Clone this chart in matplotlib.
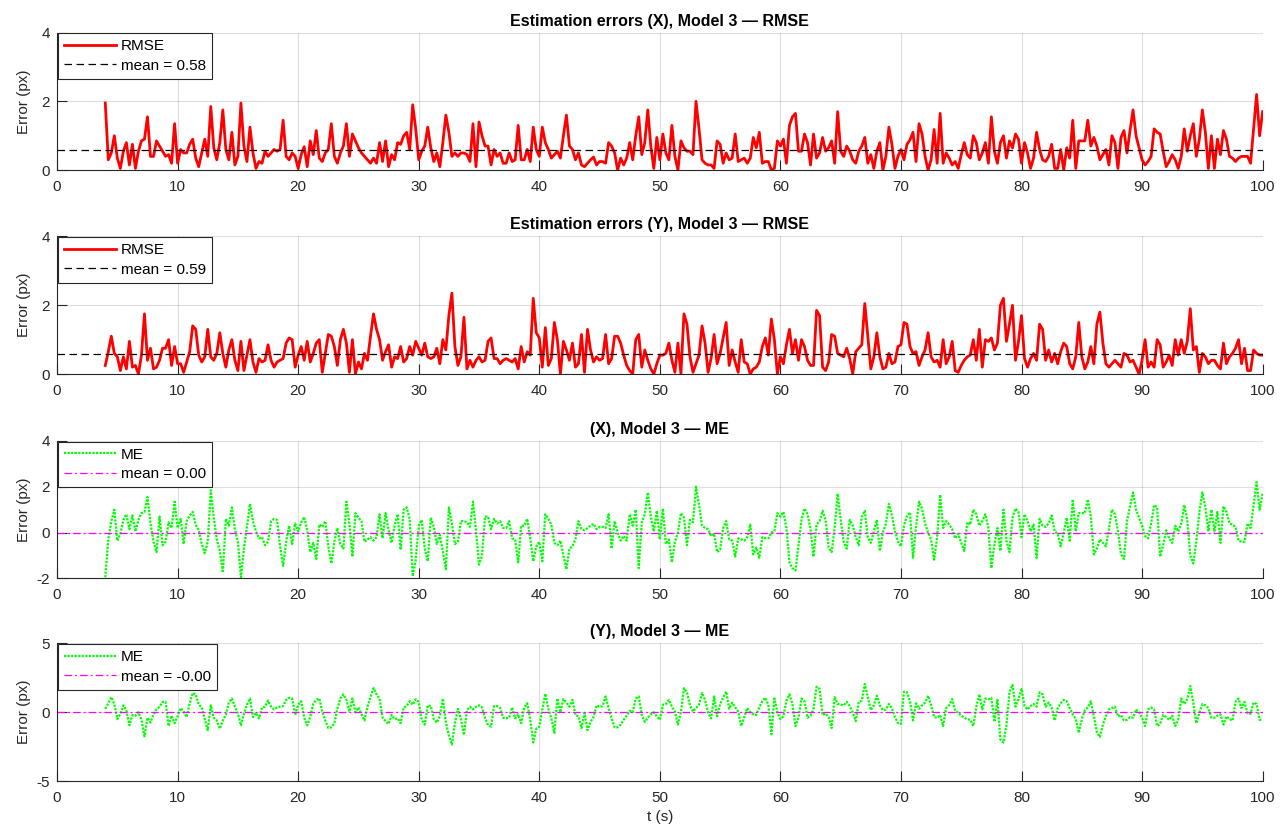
import numpy as np
import matplotlib
matplotlib.use("Agg")
import matplotlib.pyplot as plt

plt.rcParams["font.family"] = ["Liberation Sans", "DejaVu Sans"]
plt.rcParams["axes.unicode_minus"] = False

# signed per-frame estimation error (px), sampled every 0.25 s from t = 4 s to t = 100 s
me_x = [
    -1.95, -0.3, 0.5, 1.0, -0.35, -0.05, 0.55, 0.8, 0.15, 0.75, 0.05, 0.55, 0.85, 0.9, 1.55, 0.4,
    -0.4, -0.85, 0.7, -0.55, -0.4, 0.45, 0.2, 1.35,
    0.2, 0.6, -0.5, 0.5, 0.75, 0.9, 0.35, 0.1, -0.5, -0.9, -0.4, 1.85, 0.65, -0.3, -0.8, -1.75,
    0.6, 0.3, 1.1, 0.15, -0.4, -1.95, -0.7, 0.25, 1.25, 0.5, 0.05, -0.25, -0.2, -0.55, -0.4, 0.5,
    0.6, 0.55, -0.6, -1.45, -0.4, 0.3, -0.5, 0.4,
    0.05, 0.45, 0.68, 0.1, -0.85, -0.45, -1.15, 0.35, 0.25, 0.5, -0.6, -1.35, -0.4, 0.2, -0.5, -0.7,
    1.35, 0.4, -1.05, 0.85, 0.65, 0.5, -0.4, -0.3, -0.2, -0.35, -0.2, 0.8, -0.25, 0.85, 0.1, -0.45,
    0.3, 0.8, -0.75, 1.0, 1.1, 0.6, -1.9, -1.2,
    0.3, 0.55, -0.7, -1.25, 0.65, 0.25, -0.5, -0.1, -0.8, -1.6, 1.1, 0.4, -0.5, -0.4, 0.5, 0.5,
    0.45, 0.25, 1.35, 0.1, -1.4, -1.0, 0.7, 0.7, 0.15, 0.6, 0.4, 0.5, 0.2, 0.2, 0.5, -0.25,
    -0.3, -1.3, 0.3, 0.3, 0.6, -0.25, -1.25, -0.6,
    -0.4, -1.25, 0.8, 0.6, 0.35, -0.45, -0.55, -0.35, -1.0, -1.6, -0.7, -0.6, -0.3, 0.5, 0.15, 0.1,
    0.2, 0.3, 0.38, 0.15, 0.25, 0.25, 0.2, 0.8, -0.7, 0.5, 0.0, -0.35, -0.15, -0.35, 0.8, 0.3,
    1.0, -1.55, 0.45, 0.8, 1.75, 0.7, 0.05, 0.95,
    -0.3, 1.05, -0.5, -0.3, -1.3, -0.4, 0.0, 0.85, 0.65, -0.55, 0.55, 0.45, 2.0, 1.2, 0.3, 0.2,
    0.15, -0.15, -0.05, -0.85, -0.75, 0.2, 0.5, -0.3, -0.35, -1.05, -0.25, -0.3, -0.35, -0.2, 0.35, -0.95,
    -0.65, -1.1, -0.2, -0.25, -0.25, 0.0, 0.05, 0.85,
    0.7, 0.9, 0.2, -1.3, -1.55, -1.65, -0.55, 0.55, 1.05, 0.8, 0.15, -1.05, 0.35, 0.5, 0.95, 0.55,
    -0.65, -0.85, 0.2, 1.7, 0.55, -0.4, -0.7, 0.55, 0.3, -0.2, -0.55, 0.7, 0.95, -0.2, -0.45, 0.05,
    0.55, -0.8, 0.0, 0.4, 1.25, 0.75, 0.05, -0.4,
    -0.6, 0.3, 0.75, 0.88, -1.1, 0.25, 1.35, 1.05, 0.4, 0.0, -0.3, -1.18, -0.2, 1.65, 0.2, 0.5,
    0.35, 0.15, -0.25, -0.05, -0.45, -0.8, 0.45, 0.35, 1.0, 0.8, 0.3, 0.5, 0.8, 0.2, -1.55, -0.55,
    0.2, -0.8, 1.0, -0.35, -0.85, 0.65, 1.05, 0.9,
    -0.2, 0.8, 0.5, 0.05, 0.35, -1.1, 0.6, 0.3, 0.25, 0.4, 0.75, 0.05, -0.05, -0.6, 0.0, 0.65,
    -0.35, 1.45, 0.05, 0.85, 0.85, 0.85, 1.45, 0.7, -0.95, -0.7, -0.3, -0.45, -0.6, 0.15, 1.0, 0.8,
    0.05, -0.95, -1.15, 0.5, 1.15, 1.75, 1.0, 0.65,
    0.3, -0.15, -0.25, 0.4, 1.2, 1.1, -1.05, -0.55, 0.1, -0.25, -0.45, 0.3, 0.05, 0.4, 1.2, 0.55,
    -1.0, -1.35, -0.4, 0.9, 1.75, 1.1, 0.05, 1.0, 0.05, 0.9, -0.45, 1.15, 0.9, 0.4, 0.35, 0.25,
    -0.35, -0.4, -0.4, 0.4, 0.2, 1.2, 2.2, 1.0,
    1.7,
]

me_y = [
    0.25, 0.65, 1.1, 0.6, -0.5, -0.1, 0.5, 0.15, -0.95, -0.2, -0.25, 0.0, -0.55, -1.75, -0.4, -0.75,
    -0.15, 0.2, 0.4, 0.75, 0.75, -1.0, -0.25, -0.8,
    -0.3, 0.3, 0.05, -0.35, 0.65, 1.4, 1.3, 0.55, 0.35, -0.5, -1.3, 0.5, -0.4, -0.6, -1.2, -0.6,
    -0.2, 0.7, 1.0, 0.4, -0.1, -0.95, -0.1, 0.55, 1.0, -0.35, -0.05, -0.45, 0.35, 0.4, 0.85, 0.4,
    0.2, 0.35, 0.4, 0.45, 0.9, 1.05, 1.0, -0.2,
    0.55, 0.8, -0.4, -0.95, -0.35, 0.6, 0.9, 1.0, 0.05, -0.6, -1.15, -1.1, -0.8, 0.25, 1.0, 1.3,
    0.9, 0.05, 1.0, 0.0, 0.35, -0.15, -0.6, 0.4, 1.1, 1.75, 1.3, 1.0, -0.4, -0.65, -0.85, -0.2,
    -0.5, -0.45, -0.8, 0.35, 0.45, 0.8, 0.55, 0.95,
    0.75, -0.55, -0.9, 0.5, 0.45, -0.5, -0.75, -0.3, 1.0, -0.7, -1.7, -2.35, -0.8, 0.25, -0.5, -1.65,
    0.15, 0.4, 0.2, 0.4, 0.5, 0.35, -0.4, -0.95, -1.05, 0.45, 0.45, 0.3, -0.4, -0.45, -0.4, 0.35,
    -0.45, -0.15, -0.8, 0.35, 0.65, -0.55, -2.2, -1.2,
    -1.05, 0.2, 1.35, 0.25, -0.45, -1.5, 1.0, 0.0, 0.95, 0.7, 0.4, 0.9, -0.2, -0.3, -1.15, -0.05,
    -1.3, -0.7, -0.35, 0.5, 0.4, 0.45, 1.15, 0.3, -0.45, -1.1, -1.1, -0.9, -0.55, -0.25, 0.1, 0.0,
    1.0, 1.15, -0.2, -0.7, -0.4, -0.15, 0.0, -0.3,
    -0.55, 0.55, 0.6, 0.9, 0.4, 0.05, -0.9, 0.0, 1.75, 1.45, 0.5, 0.05, 0.3, 0.55, 1.4, 0.9,
    -0.05, -0.45, 1.15, -0.3, 0.6, 1.05, 1.5, 0.25, 0.7, 0.35, 0.05, -1.0, -0.35, 0.3, 0.0, -0.15,
    -0.2, 0.35, 0.8, 1.05, 0.55, -1.6, 1.0, 0.0,
    -0.5, -0.3, 0.85, 1.3, 0.6, -1.0, -0.4, 1.0, 0.8, -0.4, -0.25, 0.25, 1.85, 1.7, -0.2, -0.1,
    -0.35, -1.15, 1.1, 0.6, 0.55, 0.5, 0.75, 0.45, 0.0, -0.65, 0.75, 0.85, 2.05, 1.1, 0.15, 0.5,
    1.2, 0.5, 0.15, 0.2, 0.6, 0.3, -0.35, -0.8,
    -0.85, 1.5, 1.45, 0.8, -0.6, 0.65, 0.25, 0.5, 0.7, 1.2, 0.5, -0.35, -0.4, -0.2, -1.0, 0.3,
    0.5, 0.95, 0.1, -0.05, -0.25, -0.4, -0.5, -0.55, -1.0, 0.4, 1.3, 0.2, 1.0, 0.95, 1.05, -0.7,
    0.9, -2.0, -2.2, -0.95, 1.45, 2.0, 0.4, 0.95,
    1.7, 0.45, 0.2, 0.45, 0.6, 0.4, 1.45, 1.3, 0.4, 0.7, 0.35, -0.6, 0.3, 0.65, 0.9, 0.8,
    0.3, -0.15, -0.5, -1.5, -0.5, 0.15, 0.35, 0.8, -0.3, -1.45, -1.8, -0.9, -0.3, 0.2, 0.3, 0.4,
    -0.3, -0.2, -0.6, -0.55, -0.35, -0.4, 0.2, 0.0,
    -0.4, -1.0, 0.2, 0.35, 0.2, -1.0, -0.85, -0.2, -0.35, -0.55, -0.25, -1.0, -0.55, 1.0, 0.6, 0.95,
    1.9, 0.7, -0.8, -0.05, 0.6, 0.5, 0.3, -0.4, -0.4, -0.25, -0.15, -0.9, -0.3, -0.5, -0.6, 0.75,
    1.0, 0.3, 0.75, -0.1, -0.1, 0.7, 0.6, -0.55,
    -0.55,
]

t_start, t_end = 4.0, 100.0
t_x = np.linspace(t_start, t_end, len(me_x))
t_y = np.linspace(t_start, t_end, len(me_y))

rmse_x = np.abs(me_x)
rmse_y = np.abs(me_y)

mean_rmse_x = 0.58
mean_rmse_y = 0.59
mean_me_x = 0.0
mean_me_y = -0.001

x_ticks = list(range(0, 101, 10))

DARK = "#262626"

fig = plt.figure(figsize=(12.88, 8.34), dpi=100)
left, width, height = 0.0443, 0.9360, 0.1650
bottoms = [0.7960, 0.5515, 0.3064, 0.0635]
axes = [fig.add_axes([left, b, width, height]) for b in bottoms]


def style_axes(ax, yticks, ylim):
    ax.set_xlim(0, 100)
    ax.set_ylim(*ylim)
    ax.set_xticks(x_ticks)
    ax.set_yticks(yticks)
    ax.grid(True, color=DARK, alpha=0.15, linewidth=0.8)
    ax.set_axisbelow(True)
    for side in ("top", "right"):
        ax.spines[side].set_visible(False)
    for side in ("left", "bottom"):
        ax.spines[side].set_color(DARK)
        ax.spines[side].set_linewidth(0.8)
    ax.tick_params(direction="in", length=7, width=0.8, colors=DARK,
                   labelsize=11, top=False, right=False)
    ax.tick_params(axis="x", pad=7)
    ax.tick_params(axis="y", pad=5)
    ax.set_ylabel("Error (px)", fontsize=11, color=DARK)
    ax.yaxis.set_label_coords(-0.022, 0.5)


def add_legend(ax):
    leg = ax.legend(loc="upper left", fontsize=11, frameon=True, fancybox=False,
                    edgecolor=DARK, framealpha=1.0, borderpad=0.4, labelspacing=0.35,
                    handlelength=3.4, handletextpad=0.35, borderaxespad=0.05)
    leg.get_frame().set_linewidth(0.8)


dotted = (0, (1.0, 0.6))
dashdot = (0, (6, 2.5, 1.5, 2.5))

# RMSE panels
ax = axes[0]
ax.plot(t_x, rmse_x, color="red", linewidth=2.0, label="RMSE")
ax.axhline(mean_rmse_x, color="black", linewidth=0.9, dashes=(6, 3.6),
           label=f"mean = {mean_rmse_x:.2f}")
style_axes(ax, [0, 2, 4], (0, 4))
ax.set_title("Estimation errors (X), Model 3 — RMSE", fontsize=11.5, fontweight="bold", pad=5)
add_legend(ax)

ax = axes[1]
ax.plot(t_y, rmse_y, color="red", linewidth=2.0, label="RMSE")
ax.axhline(mean_rmse_y, color="black", linewidth=0.9, dashes=(6, 3.6),
           label=f"mean = {mean_rmse_y:.2f}")
style_axes(ax, [0, 2, 4], (0, 4))
ax.set_title("Estimation errors (Y), Model 3 — RMSE", fontsize=11.5, fontweight="bold", pad=5)
add_legend(ax)

# signed error panels
ax = axes[2]
ax.plot(t_x, me_x, color="#00ff00", linewidth=1.6, linestyle=dotted, label="ME")
ax.axhline(mean_me_x, color="magenta", linewidth=0.9, linestyle=dashdot,
           label=f"mean = {mean_me_x:.2f}")
style_axes(ax, [-2, 0, 2, 4], (-2, 4))
ax.set_title("(X), Model 3 — ME", fontsize=11.5, fontweight="bold", pad=5)
add_legend(ax)

ax = axes[3]
ax.plot(t_y, me_y, color="#00ff00", linewidth=1.6, linestyle=dotted, label="ME")
ax.axhline(mean_me_y, color="magenta", linewidth=0.9, linestyle=dashdot,
           label=f"mean = {mean_me_y:.2f}")
style_axes(ax, [-5, 0, 5], (-5, 5))
ax.set_title("(Y), Model 3 — ME", fontsize=11.5, fontweight="bold", pad=5)
ax.set_xlabel("t (s)", fontsize=11, color=DARK, labelpad=4)
add_legend(ax)

fig.savefig("out.png", dpi=100)
